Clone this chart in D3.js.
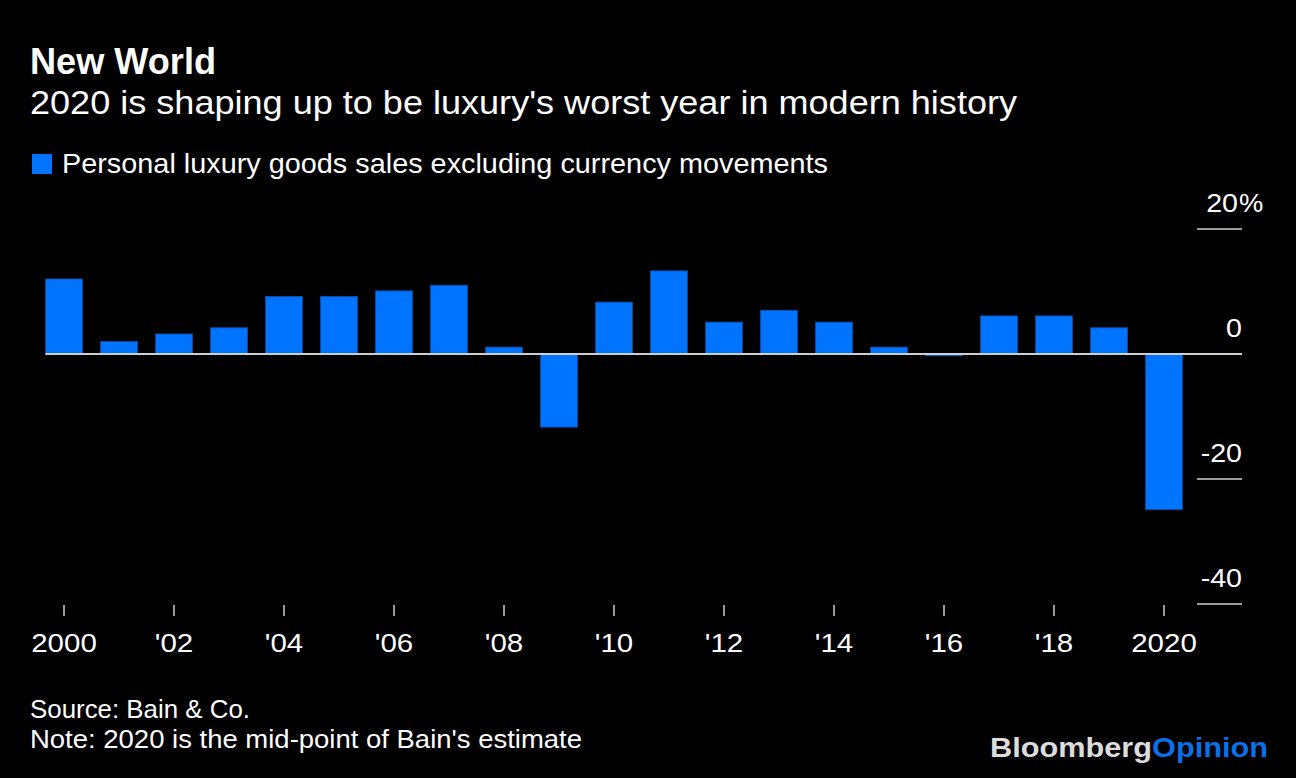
<!DOCTYPE html>
<html>
<head>
<meta charset="utf-8">
<script src="https://cdn.jsdelivr.net/npm/d3@7"></script>
<style>
  html, body { margin: 0; padding: 0; background: #000; }
  svg { display: block; }
  text { font-family: "Liberation Sans", Arial, sans-serif; }
</style>
</head>
<body>
<script>
const years = [2000,2001,2002,2003,2004,2005,2006,2007,2008,2009,2010,2011,2012,2013,2014,2015,2016,2017,2018,2019,2020];
const salesGrowth = [12.0,2.0,3.2,4.2,9.2,9.2,10.1,11.0,1.1,-11.7,8.3,13.3,5.1,7.0,5.1,1.1,-0.3,6.1,6.1,4.2,-24.9];
const yTicks = [20, 0, -20, -40];
const xTickYears = [2000,2002,2004,2006,2008,2010,2012,2014,2016,2018,2020];
const xTickLabels = ["2000","'02","'04","'06","'08","'10","'12","'14","'16","'18","2020"];

const W = 1296, H = 778;
const svg = d3.select("body").append("svg").attr("width", W).attr("height", H);
svg.append("rect").attr("width", W).attr("height", H).attr("fill", "#000");

// widen glyphs to mimic the wider house typeface
function widen(sel, factor) {
  sel.each(function() {
    const w = this.getComputedTextLength();
    d3.select(this).attr("textLength", w * factor).attr("lengthAdjust", "spacingAndGlyphs");
  });
  return sel;
}
function fitTo(sel, width) {
  sel.attr("textLength", width).attr("lengthAdjust", "spacingAndGlyphs");
  return sel;
}

// Titles
fitTo(svg.append("text").attr("x", 30).attr("y", 74).attr("fill", "#fff")
  .attr("font-size", 36).attr("font-weight", "bold").text("New World"), 186);
fitTo(svg.append("text").attr("x", 30).attr("y", 114).attr("fill", "#fff")
  .attr("font-size", 33).text("2020 is shaping up to be luxury's worst year in modern history"), 987);

// Legend
svg.append("rect").attr("x", 32).attr("y", 154).attr("width", 20).attr("height", 20).attr("fill", "#0073ff");
fitTo(svg.append("text").attr("x", 62).attr("y", 173).attr("fill", "#fff")
  .attr("font-size", 28).text("Personal luxury goods sales excluding currency movements"), 766);

// Scales
const x = d3.scaleBand().domain(years).range([36.5, 1191.5]).paddingInner(0.33).paddingOuter(0.165);
const y = d3.scaleLinear().domain([-40, 20]).range([604, 229]);

// Y gridlines (short) + labels
const yg = svg.append("g");
yTicks.forEach(t => {
  if (t !== 0) {
    yg.append("line").attr("x1", 1197).attr("x2", 1242).attr("y1", y(t)).attr("y2", y(t))
      .attr("stroke", "#cfcfcf").attr("stroke-width", 1.5);
  }
  const anchorX = t === 20 ? 1238 : 1242;
  widen(yg.append("text").attr("x", anchorX).attr("y", y(t) - 17).attr("fill", "#fff")
    .attr("font-size", 26).attr("text-anchor", "end").text(String(t)), 1.1);
  if (t === 20) {
    widen(yg.append("text").attr("x", anchorX + 1).attr("y", y(t) - 17).attr("fill", "#fff")
      .attr("font-size", 26).text("%"), 1.05);
  }
});

// Bars
svg.append("g").selectAll("rect").data(years.map((yr, i) => ({yr, v: salesGrowth[i]})))
  .join("rect")
  .attr("x", d => x(d.yr))
  .attr("width", x.bandwidth())
  .attr("y", d => Math.min(y(d.v), y(0)))
  .attr("height", d => Math.abs(y(d.v) - y(0)))
  .attr("fill", "#0073ff")
  .attr("stroke", "#0a4fa8").attr("stroke-width", 0.8);

// Zero line
svg.append("line").attr("x1", 45.5).attr("x2", 1242).attr("y1", y(0)).attr("y2", y(0))
  .attr("stroke", "#cfcfcf").attr("stroke-width", 2);

// X axis ticks and labels
const xg = svg.append("g");
xTickYears.forEach((yr, i) => {
  const cx = x(yr) + x.bandwidth() / 2;
  xg.append("line").attr("x1", cx).attr("x2", cx).attr("y1", 605).attr("y2", 616)
    .attr("stroke", "#cfcfcf").attr("stroke-width", 1.5);
  widen(xg.append("text").attr("x", cx).attr("y", 652).attr("fill", "#fff")
    .attr("font-size", 25).attr("text-anchor", "middle").text(xTickLabels[i]), 1.18);
});

// Footer
fitTo(svg.append("text").attr("x", 30).attr("y", 718).attr("fill", "#fff")
  .attr("font-size", 26).text("Source: Bain & Co."), 220);
fitTo(svg.append("text").attr("x", 30).attr("y", 748).attr("fill", "#fff")
  .attr("font-size", 26).text("Note: 2020 is the mid-point of Bain's estimate"), 552);

// Logo
const logo = svg.append("text").attr("x", 990).attr("y", 757)
  .attr("font-size", 28).attr("font-weight", "bold");
logo.append("tspan").attr("fill", "#dcdcdc").text("Bloomberg");
logo.append("tspan").attr("fill", "#0a6fe8").text("Opinion");
fitTo(logo, 278);
</script>
</body>
</html>
